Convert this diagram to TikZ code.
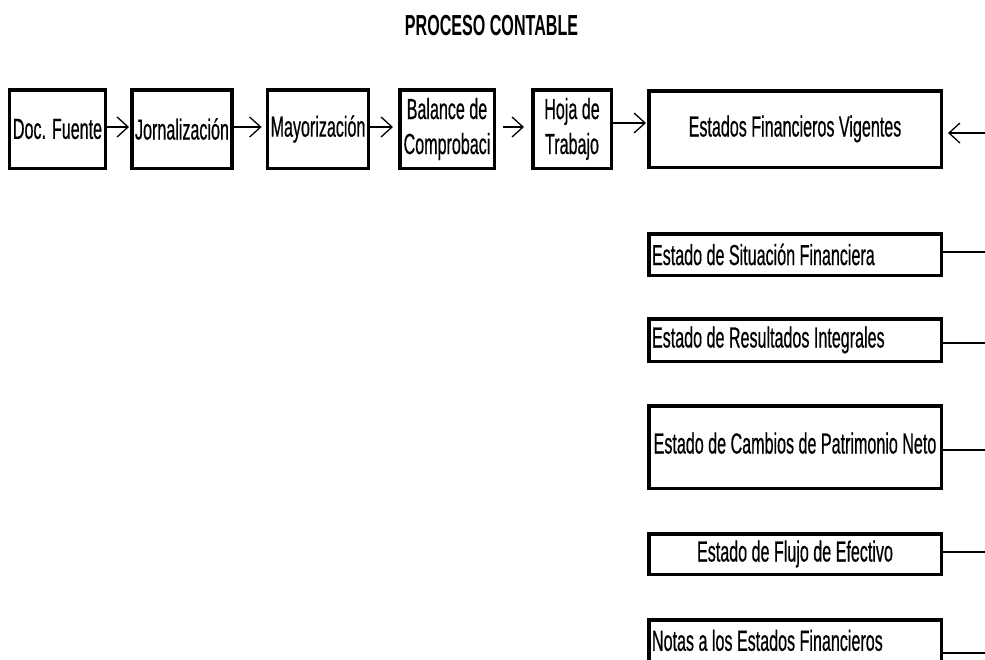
\documentclass[tikz,border=0pt]{standalone}
\usepackage{fontspec}
\setmainfont{Liberation Sans}[FakeStretch=0.555, UprightFeatures={FakeBold=0.5}]
\usetikzlibrary{arrows.meta}
\tikzset{
  box/.style={draw=black, line width=3.5pt, inner xsep=3.25pt, inner ysep=0pt,
    font=\fontsize{29}{35}\selectfont, align=center},
  lbox/.style={box, align=flush left},
  arr/.style={line width=1.3pt, -{Straight Barb[length=11pt, width=20pt, line width=1.3pt]}},
  conn/.style={line width=1.3pt}
}
\begin{document}
\begin{tikzpicture}[x=1pt, y=-1pt]
\useasboundingbox (0,0) rectangle (985,659);
\clip (0,0) rectangle (985,659);

\node[font=\fontsize{29}{30}\selectfont\bfseries] (title) at (491.5,26) {PROCESO CONTABLE};

% top row
\node[box, minimum width=93.5pt, minimum height=78.5pt] (doc) at (57.5,129) {Doc. Fuente};
\node[box, minimum width=98.5pt, minimum height=78.5pt] (jorn) at (182,129) {Jornalización};
\node[box, minimum width=100.5pt, minimum height=78.5pt] (mayor) at (318,129) {Mayorización};
\node[box, minimum width=94.5pt, minimum height=78.5pt, inner xsep=0pt] (bal) at (447,129) {\raisebox{-2pt}{Balance de}\\\raisebox{-2pt}{Comprobaci}};
\node[box, minimum width=78.5pt, minimum height=78.5pt] (hoja) at (572,129) {\raisebox{-2pt}{Hoja de}\\\raisebox{-2pt}{Trabajo}};
\node[box, minimum width=292.5pt, minimum height=76.5pt] (efv) at (795,129) {Estados Financieros Vigentes};

% lower column
\node[lbox, text width=286pt, minimum height=41.5pt] (sit) at (795,254.5) {Estado de Situación Financiera};
\node[lbox, text width=286pt, minimum height=42.5pt] (res) at (795,340) {\raisebox{-2pt}{Estado de Resultados Integrales}};
\node[box, minimum width=292.5pt, minimum height=82.5pt] (cam) at (795,447) {\raisebox{8pt}{Estado de Cambios de Patrimonio Neto}};
\node[box, minimum width=292.5pt, minimum height=40.5pt] (flu) at (795,554) {Estado de Flujo de Efectivo};
\node[lbox, text width=286pt, minimum height=43.5pt] (notas) at (795,641.5) {\raisebox{2.5pt}{Notas a los Estados Financieros}};

% arrows top row
\draw[arr, shorten >=1pt] ([yshift=2pt]doc.east) -- ([yshift=2pt]jorn.west);
\draw[arr, shorten >=4pt] ([yshift=2pt]jorn.east) -- ([yshift=2pt]mayor.west);
\draw[arr, shorten >=5pt] ([yshift=2pt]mayor.east) -- ([yshift=2pt]bal.west);
\draw[arr, shorten <=7pt, shorten >=7pt] ([yshift=2pt]bal.east) -- ([yshift=2pt]hoja.west);
\draw[arr, shorten >=1pt] ([yshift=6pt]hoja.east) -- ([yshift=6pt]efv.west);

\coordinate (inR) at (985,133);
\draw[arr, shorten >=5pt] (inR) -- (efv.east |- inR);

% right connectors
\coordinate (sitR) at (985,252);
\coordinate (resR) at (985,343);
\coordinate (camR) at (985,450);
\coordinate (fluR) at (985,552);
\coordinate (notR) at (985,653);
\draw[conn] (sit.east |- sitR) -- (sitR);
\draw[conn] (res.east |- resR) -- (resR);
\draw[conn] (cam.east |- camR) -- (camR);
\draw[conn] (flu.east |- fluR) -- (fluR);
\draw[conn] (notas.east |- notR) -- (notR);
\end{tikzpicture}
\end{document}
